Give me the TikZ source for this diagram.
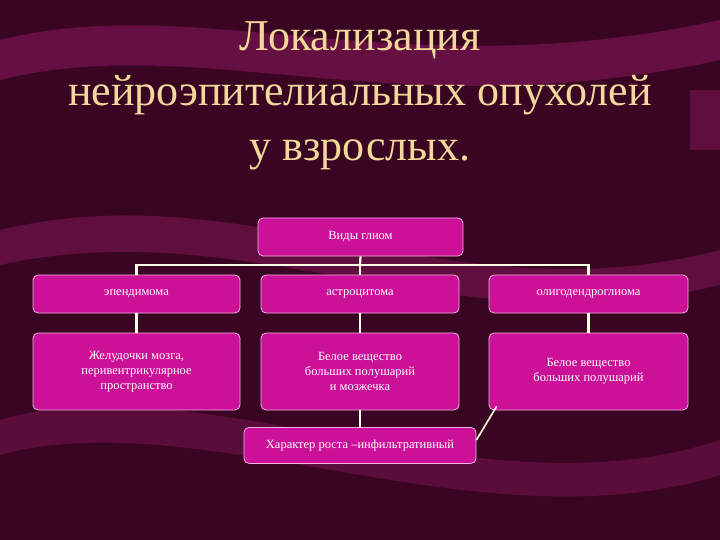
\documentclass[tikz,border=0pt]{standalone}
\usepackage{fontspec}
\setmainfont{Liberation Serif}
\usetikzlibrary{calc}
\definecolor{bg}{HTML}{3A0522}
\definecolor{band}{HTML}{7A1452}
\definecolor{boxf}{HTML}{CC1199}
\definecolor{boxd}{HTML}{F0B0E0}
\definecolor{ttl}{HTML}{F2D89A}
\begin{document}
\begin{tikzpicture}[x=1pt,y=-1pt,
  box/.style={draw=boxd,fill=boxf,rounded corners=5pt,line width=0.8pt,text=white,font=\fontsize{12.5}{15}\selectfont,align=center,inner sep=0pt},
  conn/.style={draw=white!90!yellow,line width=2.2pt}]
\useasboundingbox (0,0) rectangle (720,540);
\fill[bg] (0,0) rectangle (720,540);
\fill[band,opacity=0.7] (0,40) .. controls (200,-10) and (400,90) .. (720,20) -- (720,60) .. controls (400,130) and (200,30) .. (0,80) -- cycle;
\fill[band,opacity=0.6] (0,230) .. controls (250,170) and (450,320) .. (720,250) -- (720,285) .. controls (450,350) and (250,210) .. (0,265) -- cycle;
\fill[band,opacity=0.5] (0,420) .. controls (200,360) and (480,520) .. (720,440) -- (720,475) .. controls (480,550) and (200,400) .. (0,455) -- cycle;
\fill[band,opacity=0.6] (690,90) rectangle (720,150);
\node[text=ttl,font=\fontsize{44}{55}\selectfont,align=center] (title) at (360,96) {Локализация\\нейроэпителиальных опухолей\\у взрослых.};
\node[box,minimum width=205,minimum height=38] (top) at (360.5,237) {Виды глиом};
\node[box,minimum width=207,minimum height=38] (a) at (136.5,294) {эпендимома};
\node[box,minimum width=198,minimum height=38] (b) at (360,294) {астроцитома};
\node[box,minimum width=199,minimum height=38] (c) at (588.5,294) {олигодендроглиома};
\node[box,minimum width=207,minimum height=77] (a2) at (136.5,371.5) {Желудочки мозга,\\перивентрикулярное\\пространство};
\node[box,minimum width=198,minimum height=77] (b2) at (360,371.5) {Белое вещество\\больших полушарий\\и мозжечка};
\node[box,minimum width=199,minimum height=77] (c2) at (588.5,371.5) {Белое вещество\\больших полушарий};
\node[box,minimum width=232,minimum height=36,anchor=north] (d) at (360,427) {Характер роста –инфильтративный};
\coordinate (j) at (360,265);
\draw[conn] (top.south) -- (j);
\draw[conn] (a.north) |- (j) -| (c.north);
\draw[conn] (j) -- (b.north);
\draw[conn] (a.south) -- (a2.north);
\draw[conn] (b.south) -- (b2.north);
\draw[conn] (c.south) -- (c2.north);
\draw[conn] (b2.south) -- (d.north);
\draw[conn,line width=1.6pt] ($(c2.south west)+(8,-4)$) -- ($(d.north east)+(0,13)$);
\end{tikzpicture}
\end{document}
